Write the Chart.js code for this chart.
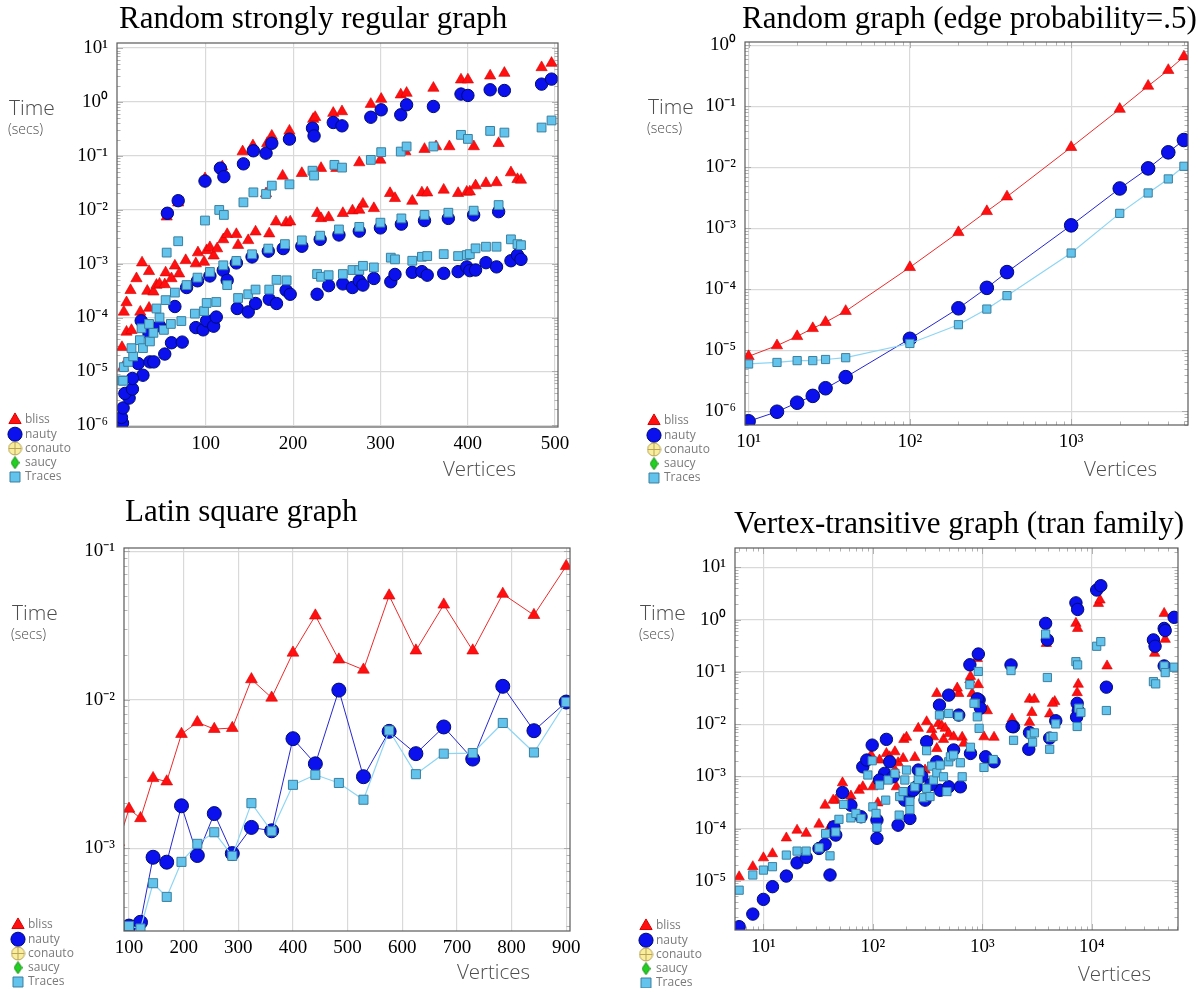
<!DOCTYPE html>
<html>
<head>
<meta charset="utf-8">
<script src="https://cdn.jsdelivr.net/npm/chart.js@4.4.1/dist/chart.umd.min.js"></script>
<style>
  html, body { margin: 0; padding: 0; background: #fff; }
  body { position: relative; width: 1203px; height: 988px; overflow: hidden; }
  .panel { position: absolute; }
</style>
</head>
<body>
<div class="panel" style="left:0px;top:0px;width:600px;height:494px"><canvas id="srg"></canvas></div>
<div class="panel" style="left:639px;top:0px;width:564px;height:494px"><canvas id="rnd"></canvas></div>
<div class="panel" style="left:3px;top:495px;width:600px;height:500px"><canvas id="lat"></canvas></div>
<div class="panel" style="left:631px;top:495px;width:572px;height:500px"><canvas id="tran"></canvas></div>
<script>
// ---------- data: random strongly regular graph ----------
const srgXTicks = [100, 200, 300, 400, 500]
const srgBlissX = [
  4, 5.3, 9.2, 14.9, 6.1, 9.2, 13.8, 20.6, 27, 35, 25, 35, 33, 40, 43.5, 47, 54, 53, 60.7, 64.6, 69.5, 77, 88.6, 91, 98, 101, 104.7, 109, 113, 120, 124.5, 135, 137, 148.6, 157, 172.7,
  180.4, 192, 196.7, 227.5, 232, 240.7, 257, 268, 275.8, 280, 292.5, 311, 316.7, 336.5, 347.5, 353.6, 372.5, 389, 398.9, 402.4, 409, 420.9, 433, 449.5, 457, 461,
  169, 188, 210, 232, 249.5, 275.8, 300, 328.6, 350.5, 363.7, 379, 407, 435.4,
  55.2, 68.4, 99.1, 118.9, 142.2, 154, 170.3, 175.6, 195.8, 223, 225.3, 246, 256, 289, 300.9, 323.3, 330, 360.7, 392.3, 400.2, 425.7, 442, 484.6, 496]
const srgBlissY = [
  2.8e-5, 1.2e-5, 5.4e-5, 5.8e-5, 1.27e-4, 1.9e-4, 3.2e-4, 5.3e-4, 1.04e-3, 7.2e-4, 1.27e-4, 1.5e-4, 3.1e-4, 3.0e-4, 4.0e-4, 4.2e-4, 6.8e-4, 4.1e-4, 5.3e-4, 9.1e-4, 6.5e-4, 1.15e-3, 1.0e-3, 1.6e-3, 1.07e-3, 1.76e-3, 2.0e-3, 1.4e-3, 1.9e-3, 2.8e-3, 3.5e-3, 3.5e-3, 2.2e-3, 2.7e-3, 3.9e-3, 3.6e-3,
  6.0e-3, 5.75e-3, 6.0e-3, 8.6e-3, 6.9e-3, 7.2e-3, 8.6e-3, 9.6e-3, 9.9e-3, 0.0128, 0.0106, 0.0202, 0.0163, 0.0145, 0.0207, 0.0207, 0.0233, 0.0202, 0.0214, 0.0216, 0.028, 0.031, 0.032, 0.0489, 0.0367, 0.0357,
  0.02, 0.0424, 0.0475, 0.059, 0.059, 0.075, 0.084, 0.12, 0.133, 0.149, 0.149, 0.149, 0.171,
  7.4e-3, 0.0135, 0.038, 0.063, 0.12, 0.155, 0.171, 0.234, 0.29, 0.48, 0.52, 0.62, 0.665, 0.91, 1.13, 1.36, 1.46, 1.81, 2.58, 2.58, 3.06, 3.43, 4.37, 5.25]
const srgNautyX = [
  4.6, 3.4, 5.3, 12.2, 7.3, 16, 28, 16, 22.5, 36, 40.5, 53, 60.7, 73, 88.6, 97, 101, 109, 112, 136, 148.6, 157, 172.7, 181, 192,
  26, 35, 47, 64.6, 78, 90.5, 104.7, 120, 124.5, 135, 153, 171.6, 188.7,
  210, 231, 252.5, 275.8, 300, 324, 350.5, 377.8, 406.8, 435.4,
  196.7, 227.5, 240.7, 257, 268, 275.8, 280, 292.5, 311.9, 316.7, 336.5, 347.5, 353.6, 372.5, 389, 398.9, 402.4, 409, 420.9, 433, 449.5, 457, 461,
  56, 68.4, 99.1, 116.7, 120.7, 143.1, 154.5, 169, 175.6, 195.8, 222.2, 224, 246, 256, 289, 300.9, 323.3, 330, 360.7, 392.3, 400.2, 425.7, 442, 484.6, 496]
const srgNautyY = [
  1.1e-6, 1.4e-6, 2.1e-6, 3.2e-6, 3.9e-6, 4.7e-6, 8.5e-6, 7.4e-6, 1.4e-5, 1.5e-5, 1.5e-5, 2.1e-5, 3.4e-5, 3.5e-5, 6.5e-5, 5.9e-5, 8.7e-5, 6.9e-5, 1.02e-4, 1.47e-4, 1.27e-4, 1.82e-4, 2.18e-4, 1.82e-4, 3.2e-4,
  8.7e-5, 5.0e-5, 7.0e-5, 1.6e-4, 3.6e-4, 4.8e-4, 5.9e-4, 7.5e-4, 4.9e-4, 1.03e-3, 1.33e-3, 1.7e-3, 1.9e-3,
  2.1e-3, 2.82e-3, 3.4e-3, 4.0e-3, 4.6e-3, 5.4e-3, 6.3e-3, 6.9e-3, 8.0e-3, 9.2e-3,
  2.7e-4, 2.7e-4, 3.9e-4, 4.2e-4, 3.6e-4, 4.8e-4, 4.0e-4, 5.3e-4, 4.6e-4, 6.3e-4, 6.9e-4, 7.1e-4, 6.1e-4, 6.6e-4, 7.1e-4, 8.7e-4, 7.4e-4, 7.6e-4, 1.04e-3, 8.7e-4, 1.13e-3, 1.44e-3, 1.2e-3,
  8.6e-3, 0.0147, 0.034, 0.059, 0.041, 0.071, 0.124, 0.112, 0.171, 0.204, 0.326, 0.234, 0.415, 0.36, 0.52, 0.714, 0.577, 0.885, 0.824, 1.4, 1.32, 1.68, 1.63, 2.14, 2.65]
const srgTracesX = [
  3.3, 5.3, 6.1, 11, 16.8, 14.9, 24.5, 28, 36, 40, 26.4, 35, 47, 52, 60, 72, 87.5, 98, 101, 112, 43.5, 137, 148.6, 157, 172.7, 181, 192.6,
  54, 64.6, 78, 90.5, 104.7, 120, 124.5, 135, 153, 171.6, 190.6,
  210, 231, 252.5, 275.8, 300, 324, 350.5, 377.8, 406.8, 435.4,
  227.5, 232, 240.7, 257, 268, 275.8, 280, 292.5, 311.9, 316.7, 336.5, 347.5, 353.6, 372.5, 389, 398.9, 402.4, 409, 420.9, 433, 449.5, 457, 461,
  55.2, 68.4, 99.1, 115.4, 120.7, 143.1, 154.5, 169, 175.6, 195.8, 222.2, 224, 247.3, 256, 289, 300.9, 323.3, 330, 360.7, 392.3, 400.2, 425.7, 442, 484.6, 496]
const srgTracesY = [
  6.8e-6, 6.7e-6, 1.2e-5, 1.5e-5, 1.9e-5, 2.7e-5, 3.8e-5, 2.7e-5, 3.6e-5, 5.2e-5, 6.3e-5, 7.6e-5, 1.0e-4, 5.9e-5, 7.6e-5, 8.6e-5, 1.18e-4, 1.31e-4, 1.86e-4, 1.94e-4, 1.47e-4, 2.3e-4, 2.7e-4, 3.3e-4, 3.3e-4, 5e-4, 4.9e-4,
  2.1e-4, 2.9e-4, 4.0e-4, 5.5e-4, 7e-4, 9.3e-4, 4e-4, 1.12e-3, 1.49e-3, 1.9e-3, 2.3e-3,
  2.7e-3, 3.3e-3, 4.3e-3, 4.8e-3, 5.75e-3, 6.9e-3, 8.0e-3, 8.8e-3, 9.6e-3, 0.0122,
  6.4e-4, 5.7e-4, 6.1e-4, 6.4e-4, 7.6e-4, 7.6e-4, 9.1e-4, 8.5e-4, 1.29e-3, 1.2e-3, 1.13e-3, 1.34e-3, 1.38e-3, 1.5e-3, 1.38e-3, 1.44e-3, 1.5e-3, 1.92e-3, 2.06e-3, 2.06e-3, 2.82e-3, 2.3e-3, 2.2e-3,
  1.6e-3, 2.6e-3, 6.3e-3, 9.9e-3, 8.0e-3, 0.0137, 0.021, 0.0196, 0.028, 0.0296, 0.053, 0.043, 0.068, 0.0605, 0.084, 0.117, 0.12, 0.149, 0.149, 0.245, 0.206, 0.29, 0.27, 0.335, 0.453]

// ---------- data: random graph (p = .5) ----------
const rndN = [10, 15, 20, 25, 30, 40, 100, 200, 300, 400, 1000, 2000, 3000, 4000, 5000]
const rndBliss = [8.0e-6, 1.2e-5, 1.7e-5, 2.3e-5, 2.9e-5, 4.4e-5, 2.3e-4, 8.6e-4, 1.9e-3, 3.3e-3, 0.0213, 0.090, 0.215, 0.39, 0.65]
const rndNauty = [6.9e-7, 9.9e-7, 1.39e-6, 1.8e-6, 2.4e-6, 3.65e-6, 1.55e-5, 4.9e-5, 1.06e-4, 1.92e-4, 1.12e-3, 4.5e-3, 9.6e-3, 0.0176, 0.028]
const rndTraces = [6.0e-6, 6.35e-6, 6.8e-6, 6.8e-6, 7.1e-6, 7.6e-6, 1.3e-5, 2.64e-5, 4.76e-5, 7.9e-5, 3.94e-4, 1.76e-3, 3.8e-3, 6.45e-3, 0.0104]

// ---------- data: latin square graph ----------
const latXTicks = [100, 200, 300, 400, 500, 600, 700, 800, 900]
const latN = [81, 100, 121, 144, 169, 196, 225, 256, 289, 324, 361, 400, 441, 484, 529, 576, 625, 676, 729, 784, 841, 900]
const latBliss = [1.1e-3, 1.84e-3, 1.59e-3, 2.96e-3, 2.81e-3, 5.87e-3, 7.04e-3, 6.34e-3, 6.44e-3, 0.0137, 0.0103, 0.0207, 0.0368, 0.0186, 0.0159, 0.0502, 0.0214, 0.0436, 0.0214, 0.0515, 0.0371, 0.0792]
const latNauty = [null, 2.99e-4, 3.17e-4, 8.69e-4, 8.05e-4, 1.93e-3, 8.93e-4, 1.71e-3, 9.2e-4, 1.38e-3, 1.31e-3, 5.46e-3, 3.7e-3, 0.0116, 3.03e-3, 6.12e-3, 4.33e-3, 6.55e-3, 3.98e-3, 0.0123, 6.18e-3, 9.64e-3]
const latTraces = [null, 2.99e-4, 2.88e-4, 5.81e-4, 4.7e-4, 8.09e-4, 1.07e-3, 1.28e-3, 8.88e-4, 2.01e-3, 1.3e-3, 2.67e-3, 3.12e-3, 2.75e-3, 2.12e-3, 6.2e-3, 3.15e-3, 4.33e-3, 4.37e-3, 6.97e-3, 4.41e-3, 9.64e-3]

// ---------- data: vertex-transitive graphs (tran family) ----------
const tranBlissX = [
  6, 8, 10, 12.1, 16.2, 20.3, 24.6, 32.2, 36.6, 40.6, 45.8, 52.8, 43.4, 63, 75, 81, 100, 96.5, 111, 115, 133, 142.5, 159, 170, 192, 203, 189, 242, 260, 310, 345, 358, 398, 427, 458, 384, 442, 493, 547, 655, 679, 808, 1036, 1280, 1111, 384, 609, 300, 164, 159,
  590, 770, 780, 920, 900,
  1870, 2700, 2990, 2840, 2700, 4130, 4590, 4380, 3850, 7170, 7430, 7530, 7360, 11500, 11900, 13800, 37600, 45900, 46900]
const tranBlissY = [
  1.19e-5, 1.86e-5, 2.75e-5, 3.3e-5, 6.6e-5, 9.3e-5, 8.1e-5, 1.21e-4, 2.8e-4, 1.08e-4, 3.5e-4, 7.5e-4, 3.5e-4, 4.2e-4, 5.4e-4, 6.3e-4, 6.3e-4, 2.55e-3, 3.1e-4, 2.05e-3, 2.74e-3, 2.37e-3, 2.95e-3, 1.82e-3, 5.1e-3, 5.6e-3, 2.2e-3, 2.3e-3, 8.3e-3, 0.0111, 7.9e-3, 5.7e-3, 0.0103, 9.2e-3, 8.3e-3, 3.4e-3, 5.1e-3, 6.6e-3, 5.7e-3, 5.6e-3, 4.3e-3, 0.0386, 5.7e-3, 5.6e-3, 0.018, 0.0386, 0.0386, 1.32e-3, 6.3e-4, 1.32e-3,
  0.049, 0.071, 0.082, 0.057, 0.18,
  0.0125, 0.03, 0.03, 0.0167, 0.0108, 0.0157, 0.027, 0.025, 0.35, 0.85, 0.68, 0.058, 0.04, 2.05, 2.38, 0.13, 0.227, 1.32, 0.42]
const tranNautyX = [
  6, 8, 10, 12.1, 16.2, 20.3, 24.6, 32.2, 36.6, 40.6, 45.8, 52.8, 44, 63, 78, 98.6, 133, 80.9, 88, 109, 109, 128, 142.5, 153, 170, 218, 210, 260, 251, 310, 300, 384, 412, 493, 547, 630, 493, 406, 609, 780, 935, 1073, 1280, 1930, 115, 196, 234, 280, 340,
  770, 920, 900, 960,
  1830, 1870, 3790, 3930, 7170, 7430, 11100, 12100, 13600, 4690, 2700, 2660, 4130, 7360, 7530, 7270, 36600, 37900, 45900, 46900, 56600, 45900]
const tranNautyY = [
  1.32e-6, 2.3e-6, 4.4e-6, 7.7e-6, 1.23e-5, 2.2e-5, 2.8e-5, 4.15e-5, 5.0e-5, 1.29e-5, 7.5e-5, 4.9e-4, 1.08e-4, 2.8e-4, 1.68e-4, 3.96e-3, 5.1e-3, 1.52e-3, 2.05e-3, 6.5e-5, 1.45e-4, 1.14e-3, 1.9e-3, 9.8e-4, 1.16e-4, 1.56e-4, 4.1e-4, 1.32e-3, 6.3e-4, 4.6e-3, 3.5e-4, 1.9e-3, 5.4e-4, 6.3e-4, 3.2e-3, 6.3e-4, 0.0359, 0.0231, 0.0149, 2.74e-3, 0.029, 2.37e-3, 1.9e-3, 8.9e-3, 8.5e-4, 3.5e-4, 5.4e-4, 1.0e-3, 7e-4,
  0.137, 0.22, 0.0305, 0.0203,
  0.136, 9.0e-3, 0.85, 0.41, 2.1, 1.57, 3.7, 4.47, 0.051, 0.0116, 6.9e-3, 3.3e-3, 5.4e-3, 0.025, 0.018, 0.0136, 0.41, 0.31, 0.68, 0.62, 1.11, 0.13]
const tranTracesX = [
  6, 8, 10, 12.1, 16.2, 20.3, 24.6, 32.2, 37, 40.6, 45.8, 49, 54, 63, 70, 78, 90, 100, 107, 109, 98.6, 115, 131, 138, 159, 174, 176, 189, 196, 203, 218, 218, 242, 260, 269, 290, 310, 310, 333, 345, 358, 384, 412, 442, 475, 493, 511, 547, 630, 655, 780, 1036, 1259, 935, 900, 866, 406, 493, 609, 1930,
  770, 920, 840,
  1830, 3790, 3930, 2790, 2880, 2990, 4130, 4190, 4430, 4690, 7170, 7430, 7360, 7620, 7960, 11100, 12100, 13600, 36600, 38400, 45900, 46900, 56600]
const tranTracesY = [
  6.6e-6, 1.29e-5, 1.6e-5, 1.86e-5, 3.1e-5, 3.7e-5, 3.7e-5, 4.27e-5, 8.0e-5, 3.0e-5, 8.6e-5, 1.5e-4, 2.9e-4, 1.6e-4, 1.95e-4, 1.56e-4, 1.06e-3, 2.6e-4, 1.95e-4, 1.05e-4, 1.99e-3, 6.8e-4, 3.5e-4, 8.5e-4, 1.14e-3, 1.81e-4, 4.1e-4, 5.1e-4, 8.5e-4, 1.32e-3, 3.3e-4, 2.3e-4, 6.3e-4, 8.7e-4, 1.22e-3, 3.9e-4, 5.9e-4, 3.1e-3, 4.1e-4, 1.57e-3, 8.5e-4, 1.17e-3, 1.64e-3, 9.8e-4, 5.1e-4, 1.9e-3, 2.37e-3, 2.55e-3, 1.82e-3, 9.8e-4, 3.6e-3, 1.48e-3, 2.1e-3, 8.3e-3, 0.0138, 0.0249, 0.0149, 0.016, 0.0142, 4.9e-3,
  0.057, 0.102, 0.025,
  0.106, 0.53, 0.078, 6.3e-3, 4.5e-3, 6.8e-3, 3.3e-3, 5.6e-3, 5.8e-3, 0.0101, 0.157, 0.136, 9.0e-3, 0.0202, 0.0167, 0.31, 0.38, 0.0182, 0.065, 0.059, 0.13, 0.097, 0.123]

// ---------- styling ----------
const GRID = '#d9d9d9'
const TICK_FONT = { family: '"Liberation Serif", "Times New Roman", serif', size: 19 }
const SUP = { '-': '⁻', '0': '⁰', '1': '¹', '2': '²', '3': '³', '4': '⁴', '5': '⁵', '6': '⁶', '7': '⁷', '8': '⁸', '9': '⁹' }

function isPow10(v) {
    let e = Math.log10(v)
    return Math.abs(e - Math.round(e)) < 1e-6
}

function powLabel(v) {
    if (!isPow10(v)) return ''
    return '10' + String(Math.round(Math.log10(v))).split('').map(c => SUP[c]).join('')
}

function pts(xs, ys) {
    let out = []
    for (let i = 0; i < Math.min(xs.length, ys.length); i++) out.push({ x: xs[i], y: ys[i] })
    return out
}

// 1..9 x 10^e inside the axis range
function logTickList(min, max) {
    let out = []
    for (let e = Math.floor(Math.log10(min)); e <= Math.ceil(Math.log10(max)); e++) {
        for (let k = 1; k <= 9; k++) {
            let v = k * Math.pow(10, e)
            if (v >= min && v <= max) out.push({ value: v })
        }
    }
    return out
}

// small icons for the two solvers that only appear in the legend
function conautoIcon() {
    let c = document.createElement('canvas')
    c.width = 15; c.height = 15
    let g = c.getContext('2d')
    g.fillStyle = '#f8ee9e'; g.strokeStyle = '#bba457'; g.lineWidth = 1
    g.beginPath(); g.arc(7.5, 7.5, 6.5, 0, Math.PI * 2); g.fill(); g.stroke()
    g.beginPath(); g.moveTo(7.5, 1); g.lineTo(7.5, 14); g.moveTo(1, 7.5); g.lineTo(14, 7.5); g.stroke()
    return c
}

function saucyIcon() {
    let c = document.createElement('canvas')
    c.width = 9; c.height = 13
    let g = c.getContext('2d')
    g.fillStyle = '#22d022'; g.strokeStyle = '#138a13'; g.lineWidth = 1
    g.beginPath(); g.moveTo(4.5, 0.5); g.lineTo(8.5, 6.5); g.lineTo(4.5, 12.5); g.lineTo(0.5, 6.5); g.closePath()
    g.fill(); g.stroke()
    return c
}

const CONAUTO_ICON = conautoIcon()
const SAUCY_ICON = saucyIcon()

function makeDatasets(bliss, nauty, traces, r, line) {
    return [
        { label: 'bliss', data: bliss, order: 4, pointStyle: 'triangle', pointRadius: r[0], pointHoverRadius: r[0],
          backgroundColor: '#ff0f0f', pointBorderColor: '#d60000', pointBorderWidth: 0.6,
          borderColor: '#ec2a2a', borderWidth: 1, showLine: line, tension: 0 },
        { label: 'nauty', data: nauty, order: 3, pointStyle: 'circle', pointRadius: r[1], pointHoverRadius: r[1],
          backgroundColor: '#0a10ee', pointBorderColor: '#000b70', pointBorderWidth: 1,
          borderColor: '#2626d2', borderWidth: 1, showLine: line, tension: 0 },
        { label: 'conauto', data: [], order: 2, pointStyle: CONAUTO_ICON, backgroundColor: '#f8ee9e', borderColor: '#bba457' },
        { label: 'saucy', data: [], order: 1, pointStyle: SAUCY_ICON, backgroundColor: '#22d022', borderColor: '#138a13' },
        { label: 'Traces', data: traces, order: 0, pointStyle: 'rect', pointRadius: r[2], pointHoverRadius: r[2],
          backgroundColor: '#62c4ec', pointBorderColor: '#3b7f9f', pointBorderWidth: 1,
          borderColor: '#8dd5f5', borderWidth: 1.2, showLine: line, tension: 0 }
    ]
}

// minor/major ticks inside the frame, and the frame itself
const frame = {
    id: 'frame',
    beforeDatasetsDraw(chart) {
        let { ctx, chartArea: a } = chart
        ctx.save()
        ctx.strokeStyle = '#a0a0a0'
        ctx.lineWidth = 0.8
        for (let id of ['x', 'y']) {
            let s = chart.scales[id]
            if (s.type !== 'logarithmic') continue
            for (let t of s.ticks) {
                let m = t.value / Math.pow(10, Math.floor(Math.log10(t.value) + 1e-9))
                let major = Math.abs(m - 1) < 1e-6
                let len = major ? 6 : 3.5
                let p = Math.round(s.getPixelForValue(t.value)) + 0.5
                ctx.beginPath()
                if (id === 'y') {
                    ctx.moveTo(a.left, p); ctx.lineTo(a.left + len, p)
                    ctx.moveTo(a.right, p); ctx.lineTo(a.right - len, p)
                } else {
                    ctx.moveTo(p, a.bottom); ctx.lineTo(p, a.bottom - len)
                    ctx.moveTo(p, a.top); ctx.lineTo(p, a.top + len)
                }
                ctx.stroke()
            }
        }
        ctx.restore()
    },
    afterDatasetsDraw(chart) {
        let { ctx, chartArea: a } = chart
        ctx.save()
        ctx.strokeStyle = '#5a5a5a'
        ctx.lineWidth = 1.2
        ctx.strokeRect(a.left, a.top, a.right - a.left, a.bottom - a.top)
        ctx.restore()
    }
}

// vertical legend in the bottom-left corner, drawn from the datasets
const sideLegend = {
    id: 'sideLegend',
    afterDraw(chart, args, opts) {
        let ctx = chart.ctx
        let sets = chart.data.datasets
        ctx.save()
        ctx.font = '12px "Open Sans", sans-serif'
        ctx.textAlign = 'left'
        ctx.textBaseline = 'middle'
        sets.forEach((ds, i) => {
            let y = opts.lastY - (sets.length - 1 - i) * opts.step
            ctx.fillStyle = ds.backgroundColor
            ctx.strokeStyle = ds.pointBorderColor || ds.borderColor
            ctx.lineWidth = 1
            Chart.helpers.drawPoint(ctx, { pointStyle: ds.pointStyle, radius: 7.07, rotation: 0, borderWidth: 1 }, opts.x, y)
            ctx.fillStyle = '#7a7a7a'
            ctx.fillText(ds.label, opts.x + 10, y)
        })
        ctx.restore()
    }
}

// title, "Time (secs)" and "Vertices"
const panelText = {
    id: 'panelText',
    afterDraw(chart, args, opts) {
        let { ctx, chartArea: a } = chart
        ctx.save()
        ctx.textAlign = 'left'
        ctx.textBaseline = 'alphabetic'
        ctx.fillStyle = '#000'
        ctx.font = '31px "Liberation Serif", "Times New Roman", serif'
        ctx.fillText(opts.title, a.left + opts.titleDx, opts.titleY)

        ctx.fillStyle = '#4d4d4d'
        ctx.textBaseline = 'middle'
        ctx.font = '300 21px "Open Sans", sans-serif'
        ctx.fillText('Time', 9, a.top + 66)
        ctx.font = '300 14px "Open Sans", sans-serif'
        ctx.fillText('(secs)', 8, a.top + 87)
        ctx.textAlign = 'right'
        ctx.font = '300 20.5px "Open Sans", sans-serif'
        ctx.fillText('Vertices', a.right - opts.vx, a.bottom + opts.vy)
        ctx.restore()
    }
}

function logAxis(min, max) {
    return {
        type: 'logarithmic',
        min: min,
        max: max,
        border: { display: false },
        afterBuildTicks: (s) => { s.ticks = logTickList(min, max) },
        grid: {
            drawTicks: false,
            lineWidth: 1.2,
            color: (c) => (c.tick && isPow10(c.tick.value)) ? GRID : 'rgba(0,0,0,0)'
        },
        ticks: { autoSkip: false, maxRotation: 0, color: '#000', font: TICK_FONT, callback: powLabel }
    }
}

function linAxis(min, max, tickValues) {
    return {
        type: 'linear',
        min: min,
        max: max,
        border: { display: false },
        afterBuildTicks: (s) => { s.ticks = tickValues.map(v => ({ value: v })) },
        grid: { drawTicks: false, lineWidth: 1.2, color: GRID },
        ticks: { autoSkip: false, maxRotation: 0, color: '#000', font: TICK_FONT, callback: (v) => String(v) }
    }
}

function buildChart(id, box, datasets, xScale, yScale, text) {
    xScale.ticks.padding = 6
    xScale.afterFit = (s) => { s.height = box.h - box.padB - box.bottom }
    yScale.ticks.padding = 9
    yScale.afterFit = (s) => { s.width = box.left }

    return new Chart(document.getElementById(id), {
        type: 'scatter',
        data: { datasets: datasets },
        options: {
            responsive: true,
            maintainAspectRatio: false,
            animation: false,
            events: [],
            layout: { padding: { left: 0, top: box.top, right: box.w - box.right, bottom: box.padB } },
            scales: { x: xScale, y: yScale },
            plugins: {
                title: { display: false },
                tooltip: { enabled: false },
                legend: { display: false },
                sideLegend: { x: 15, lastY: box.h - box.padB - 8.5, step: 14.25 },
                panelText: text
            }
        },
        plugins: [frame, sideLegend, panelText]
    })
}

buildChart('srg',
    { w: 600, h: 494, left: 117, right: 558, top: 43, bottom: 427, padB: 8.5 },
    makeDatasets(pts(srgBlissX, srgBlissY), pts(srgNautyX, srgNautyY), pts(srgTracesX, srgTracesY), [6.5, 6.2, 6.2], false),
    linAxis(-1.7, 503.4, srgXTicks),
    logAxis(9.3e-7, 12.4),
    { title: 'Random strongly regular graph', titleDx: 2, titleY: 28, vx: 42, vy: 43 })

buildChart('rnd',
    { w: 564, h: 494, left: 106, right: 549, top: 42, bottom: 425, padB: 7.5 },
    makeDatasets(pts(rndN, rndBliss), pts(rndN, rndNauty), pts(rndN, rndTraces), [6.5, 6.8, 5.8], true),
    logAxis(9.5, 5300),
    logAxis(6.0e-7, 1.13),
    { title: 'Random graph (edge probability=.5)', titleDx: -3, titleY: 28, vx: 31, vy: 45 })

buildChart('lat',
    { w: 600, h: 500, left: 121, right: 567, top: 53, bottom: 436, padB: 4.5 },
    makeDatasets(pts(latN, latBliss), pts(latN, latNauty), pts(latN, latTraces), [6.8, 7, 6.4], true),
    linAxis(90.8, 907, latXTicks),
    logAxis(2.77e-4, 0.105),
    { title: 'Latin square graph', titleDx: 1, titleY: 26, vx: 40, vy: 42 })

buildChart('tran',
    { w: 572, h: 500, left: 104, right: 547, top: 53, bottom: 435, padB: 3.5 },
    makeDatasets(pts(tranBlissX, tranBlissY), pts(tranNautyX, tranNautyY), pts(tranTracesX, tranTracesY), [6, 6.2, 5.8], false),
    logAxis(5.5, 61400),
    logAxis(1.14e-6, 23.6),
    { title: 'Vertex-transitive graph (tran family)', titleDx: -1, titleY: 38, vx: 27, vy: 45 })
</script>
</body>
</html>
